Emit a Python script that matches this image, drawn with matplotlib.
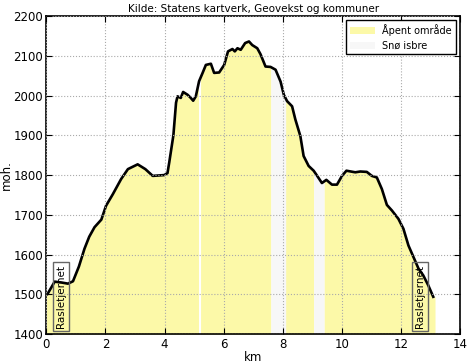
import numpy as np
import matplotlib
matplotlib.use("Agg")
from matplotlib import pyplot as plt

# hoydeprofil (km, moh.)
km = [0.0, 0.03, 0.28, 0.5, 0.73, 0.9, 1.1, 1.29, 1.45, 1.63, 1.86, 2.02, 2.25,
      2.53, 2.76, 3.09, 3.35, 3.6, 3.99, 4.1, 4.16, 4.3, 4.39, 4.44, 4.55, 4.63,
      4.78, 4.89, 4.97, 5.06, 5.17, 5.29, 5.4, 5.57, 5.68, 5.85, 6.02, 6.15,
      6.3, 6.38, 6.47, 6.58, 6.73, 6.86, 6.97, 7.14, 7.25, 7.42, 7.59, 7.76,
      7.93, 8.04, 8.15, 8.32, 8.43, 8.6, 8.71, 8.88, 9.05, 9.17, 9.33, 9.48,
      9.67, 9.84, 10.01, 10.16, 10.46, 10.63, 10.85, 11.02, 11.19, 11.36,
      11.53, 11.7, 11.92, 12.09, 12.26, 12.43, 12.6, 12.76, 12.93, 13.1]
moh = [1500, 1500, 1532, 1530, 1527, 1533, 1570, 1615, 1645, 1669, 1688, 1723, 1752,
       1790, 1815, 1827, 1815, 1798, 1800, 1805, 1832, 1900, 1982, 1998, 1994, 2009,
       2002, 1994, 1987, 1998, 2036, 2057, 2077, 2080, 2057, 2058, 2077, 2111,
       2117, 2111, 2119, 2115, 2132, 2136, 2127, 2119, 2104, 2073, 2072, 2065,
       2035, 2002, 1986, 1973, 1940, 1898, 1848, 1823, 1811, 1798, 1780, 1788,
       1776, 1776, 1798, 1811, 1807, 1809, 1808, 1798, 1794, 1765,
       1725, 1711, 1690, 1665, 1623, 1594, 1565, 1548, 1523, 1494]

# terrengtype-segmenter (start, slutt) i km
aapent = [(0.0, 5.15), (5.22, 7.6), (8.1, 9.05), (9.4, 13.16)]
sno = [(7.6, 8.1), (9.05, 9.4)]

steder = ["Rasletjernet", "Rasletjernet"]
steder_km = [0.5, 12.65]

x = np.array(km)
y = np.array(moh)

def fyll(ax, a, b, color, label):
    xs = np.linspace(a, b, 200)
    ys = np.interp(xs, x, y)
    ax.fill_between(xs, 1400, ys, color=color, linewidth=0, label=label)

fig = plt.figure(figsize=(4.76, 3.64), dpi=100)
ax = fig.add_axes([0.0975, 0.082, 0.8685, 0.874])

gul = '#fcf9a8'
hvit = '#f7f7f7'
for i, (a, b) in enumerate(aapent):
    fyll(ax, a, b, gul, 'Åpent område' if i == 0 else None)
for i, (a, b) in enumerate(sno):
    fyll(ax, a, b, hvit, 'Snø isbre' if i == 0 else None)

ax.plot(x, y, color='black', linewidth=1.9)

for navn, k in zip(steder, steder_km):
    ax.text(k, 1416, navn, rotation=90, ha='center', va='bottom', fontsize=7.5,
            bbox=dict(facecolor='none', edgecolor='#666666', pad=2))

ax.set_xlim(0, 14)
ax.set_ylim(1400, 2200)
ax.set_xticks(range(0, 15, 2))
ax.set_yticks(range(1400, 2201, 100))
ax.grid(True, color='#aaaaaa', linestyle=':', linewidth=0.8)
ax.set_axisbelow(False)
ax.tick_params(direction='in', labelsize=8.5, length=4, pad=2.5, top=True, right=True)
for s in ax.spines.values():
    s.set_linewidth(1.2)
ax.set_xlabel('km', fontsize=8.5, labelpad=0)
ax.set_ylabel('moh.', fontsize=8.5, labelpad=0)
ax.set_title('Kilde: Statens kartverk, Geovekst og kommuner', fontsize=7.5, pad=3)

leg = ax.legend(loc='upper right', fontsize=7, fancybox=False, framealpha=1,
                handlelength=2.5, borderaxespad=0.4)
leg.get_frame().set_edgecolor('black')
leg.get_frame().set_linewidth(1.0)

fig.savefig('out.png', dpi=100)
